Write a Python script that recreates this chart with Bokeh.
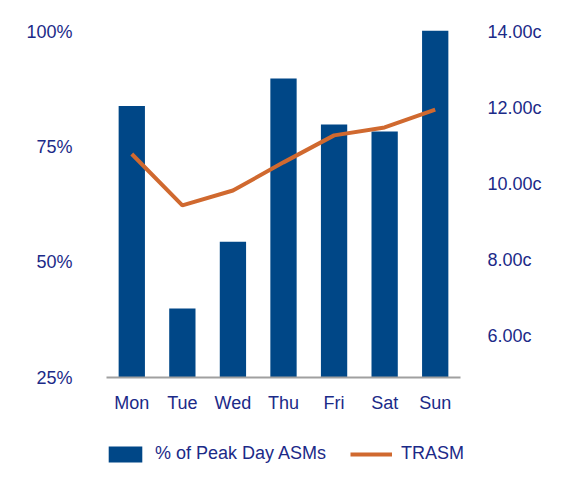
from bokeh.plotting import figure
from bokeh.layouts import column, row
from bokeh.models import (Range1d, LinearAxis, FactorRange, FixedTicker,
                          PrintfTickFormatter, Legend, LegendItem, ColumnDataSource)
from bokeh.embed import file_html
from bokeh.resources import INLINE

days = ["Mon", "Tue", "Wed", "Thu", "Fri", "Sat", "Sun"]
peak_pct = [84, 40, 54.5, 90, 80, 78.5, 100.4]
trasm = [10.8, 9.45, 9.84, 10.58, 11.29, 11.5, 11.97]
left_ticks = [25, 50, 75, 100]
right_ticks = [6, 8, 10, 12, 14]
series_names = ["% of Peak Day ASMs", "TRASM"]

TXT = "#1B2A88"
BAR = "#004787"
ORANGE = "#D0692F"
FONT = "Liberation Sans"
FS = "18px"

src = ColumnDataSource(dict(day=days, pct=peak_pct, trasm=trasm))

p = figure(width=560, height=430, x_range=FactorRange(*days, range_padding=0),
           y_range=Range1d(25, 102.17), output_backend="svg", toolbar_location=None,
           min_border_left=106, min_border_right=100, min_border_top=22,
           min_border_bottom=53, outline_line_color=None)
p.extra_y_ranges = {"c": Range1d(4.92, 14.26)}

bars = p.vbar(x="day", top="pct", bottom=25, width=0.52, source=src,
              fill_color=BAR, line_color=None)
ln = p.line(x="day", y="trasm", source=src, line_color=ORANGE, line_width=4,
            y_range_name="c")

p.grid.visible = False

ax = p.xaxis[0]
ax.axis_line_color = "#A0A0A0"
ax.axis_line_width = 2
ax.major_tick_line_color = None
ax.minor_tick_line_color = None
ax.major_label_standoff = 9
ax.major_label_text_font = FONT
ax.major_label_text_font_size = FS
ax.major_label_text_color = TXT

ay = p.yaxis[0]
ay.ticker = FixedTicker(ticks=left_ticks)
ay.formatter = PrintfTickFormatter(format="%d%%")
ay.axis_line_color = None
ay.major_tick_line_color = None
ay.minor_tick_line_color = None
ay.major_label_standoff = 28
ay.major_label_text_font = FONT
ay.major_label_text_font_size = FS
ay.major_label_text_color = TXT

ry = LinearAxis(y_range_name="c", ticker=FixedTicker(ticks=right_ticks),
                formatter=PrintfTickFormatter(format="%.2fc"))
ry.axis_line_color = None
ry.major_tick_line_color = None
ry.minor_tick_line_color = None
ry.major_label_standoff = 21
ry.major_label_text_font = FONT
ry.major_label_text_font_size = FS
ry.major_label_text_color = TXT
p.add_layout(ry, "right")

# legend strip: proxy renderers kept outside the visible range
lg = figure(width=560, height=52, x_range=Range1d(0, 1), y_range=Range1d(0, 1),
            output_backend="svg", toolbar_location=None, min_border=0,
            outline_line_color=None, x_axis_location=None, y_axis_location=None)
lg.grid.visible = False
proxy = ColumnDataSource(dict(x=[-5, -4], y=[-5, -4]))
lb = lg.vbar(x="x", top="y", bottom=-6, width=0.5, source=proxy,
             fill_color=BAR, line_color=None)
ll = lg.line(x="x", y="y", source=proxy, line_color=ORANGE, line_width=4)

legend = Legend(items=[LegendItem(label=series_names[0], renderers=[lb]),
                       LegendItem(label=series_names[1], renderers=[ll])],
                orientation="horizontal", location=(104, 18),
                glyph_width=42, glyph_height=20, label_standoff=9, spacing=24,
                padding=0, margin=0, border_line_color=None,
                background_fill_alpha=0,
                label_text_font=FONT, label_text_font_size=FS,
                label_text_color=TXT)
lg.add_layout(legend, "center")

open("out.html", "w").write(file_html(column(p, row(lg, spacing=0), spacing=0), INLINE))
